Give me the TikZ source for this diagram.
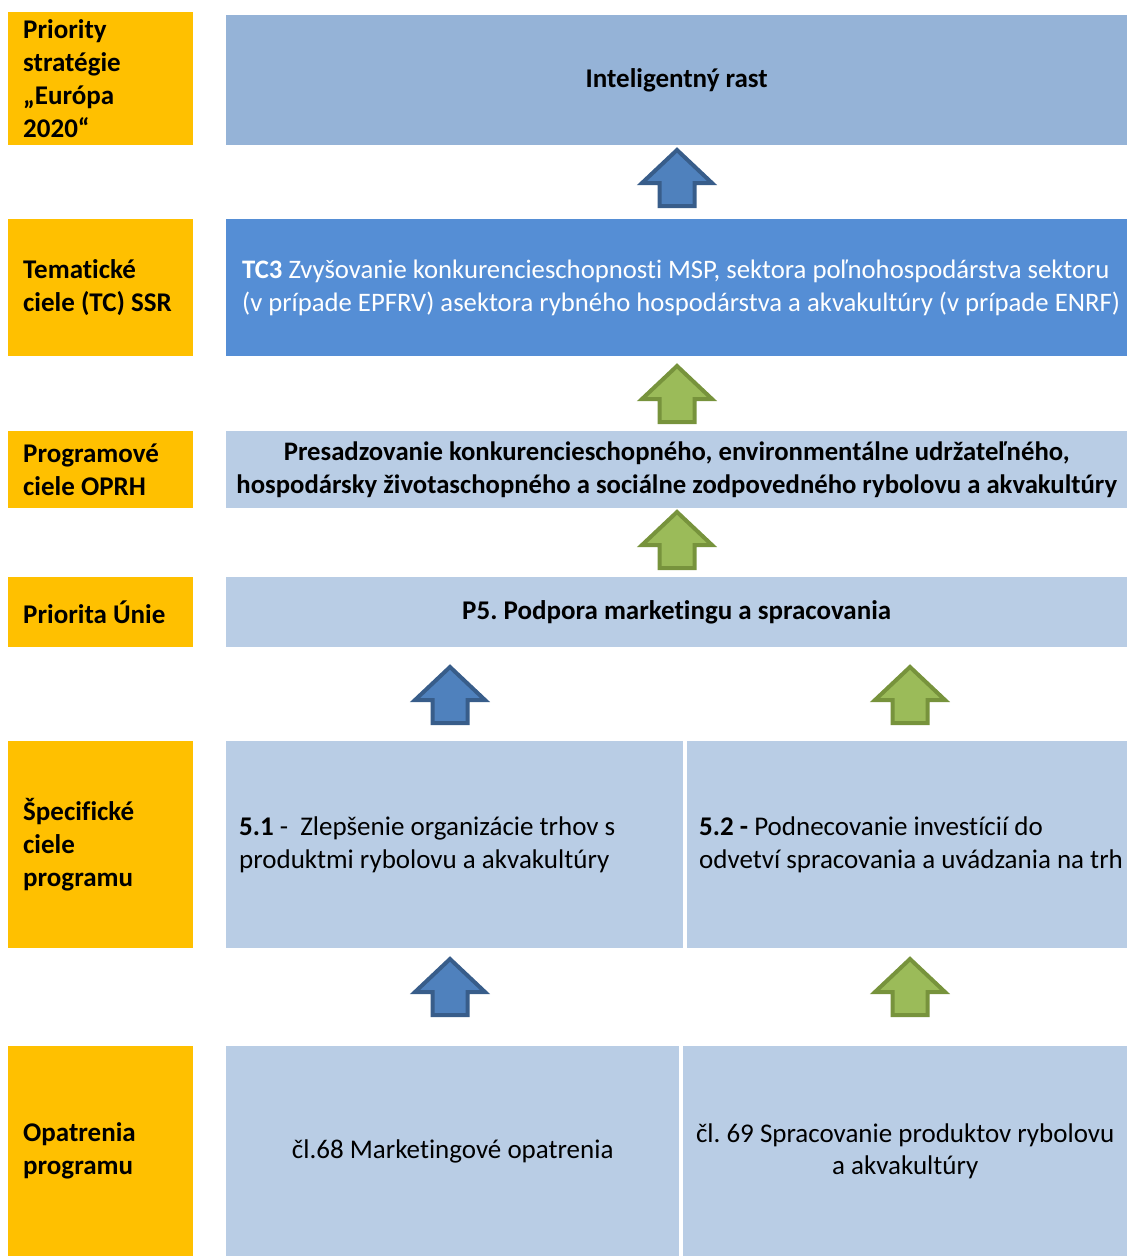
\documentclass[tikz,border=0pt]{standalone}
\usepackage{fontspec}
\setmainfont{Carlito}[Ligatures=NoCommon]
\frenchspacing
\definecolor{yel}{HTML}{FFC000}
\definecolor{topblue}{HTML}{95B3D7}
\definecolor{tcblue}{HTML}{558ED5}
\definecolor{lblue}{HTML}{B9CDE5}
\definecolor{arbfill}{HTML}{4F81BD}
\definecolor{arbdraw}{HTML}{385D8A}
\definecolor{argfill}{HTML}{9BBB59}
\definecolor{argdraw}{HTML}{77933C}
\newcommand\natsp{\frenchspacing\spaceskip=0pt\xspaceskip=0pt\relax}
\newcommand\blockarr[4]{%
  \draw[line width=4pt, line join=miter, fill=#3, draw=#4]
    (#1,#2) -- ++(35,33) -- ++(-17.5,0) -- ++(0,23) -- ++(-35,0) -- ++(0,-23) -- ++(-17.5,0) -- cycle;}
\begin{document}
\begin{tikzpicture}[x=1pt,y=-1pt,
  txt/.style={font=\fontsize{27}{32.8}\selectfont\frenchspacing},
  ybox/.style={fill=yel, anchor=north west, inner xsep=15pt, inner ysep=0pt, text width=155pt, align=left, font=\fontsize{27}{32.8}\selectfont\bfseries},
  rbox/.style={txt, anchor=north west, inner sep=0pt},
  bold/.style={font=\fontsize{27}{32.8}\selectfont\bfseries\frenchspacing}]
\useasboundingbox (0,0) rectangle (1127,1256);
% left column
\node[ybox, minimum height=133pt] (y1) at (8,12) {\natsp\mbox{Priority}\\ \mbox{stratégie}\\ \mbox{„Európa}\\ \mbox{2020“}};
\node[ybox, minimum height=137pt] (y2) at (8,219) {\natsp\mbox{Tematické}\\ \mbox{ciele (TC) SSR}};
\node[ybox, minimum height=77pt] (y3) at (8,431) {\natsp\mbox{Programové}\\ \mbox{ciele OPRH}};
\node[ybox, minimum height=70pt] (y4) at (8,577) {\natsp\mbox{Priorita Únie}};
\node[ybox, minimum height=207pt] (y5) at (8,741) {\natsp\mbox{Špecifické}\\ \mbox{ciele}\\ \mbox{programu}};
\node[ybox, minimum height=210pt] (y6) at (8,1046) {\natsp\mbox{Opatrenia}\\ \mbox{programu}};
% right column
\node[rbox, bold, fill=topblue, minimum width=901pt, minimum height=130pt] (r1) at (226,15) {Inteligentný rast};
\node[rbox, fill=tcblue, text=white, minimum height=137pt, inner xsep=16pt, text width=869pt, align=left, font=\fontsize{26.7}{32.8}\selectfont] (r2) at (226,219) {\natsp\mbox{\textbf{TC3} Zvyšovanie konkurencieschopnosti MSP, sektora poľnohospodárstva sektoru}\\\mbox{(v prípade EPFRV) asektora rybného hospodárstva a akvakultúry (v prípade ENRF)}};
\node[rbox, fill=lblue, minimum width=901pt, minimum height=77pt, align=center, font=\fontsize{26.7}{32.8}\selectfont\bfseries] (r3) at (226,431) {\natsp Presadzovanie konkurencieschopného, environmentálne udržateľného,\\ hospodársky životaschopného a sociálne zodpovedného rybolovu a akvakultúry};
\node[rbox, bold, fill=lblue, minimum width=901pt, minimum height=70pt] (r4) at (226,577) {P5. Podpora marketingu a spracovania};
\node[rbox, fill=lblue, minimum height=207pt, inner xsep=13pt, text width=431pt, align=left] (r5a) at (226,741) {\natsp\mbox{\textbf{5.1} -\ \ Zlepšenie organizácie trhov s}\\ \mbox{produktmi rybolovu a akvakultúry}};
\node[rbox, fill=lblue, minimum height=207pt, inner xsep=12pt, text width=416pt, align=left] (r5b) at (687,741) {\natsp\mbox{\textbf{5.2 -} Podnecovanie investícií do}\\ \mbox{odvetví spracovania a uvádzania na trh}};
\node[rbox, fill=lblue, minimum width=453pt, minimum height=210pt] (r6a) at (226,1046) {čl.68 Marketingové opatrenia};
\node[rbox, fill=lblue, minimum width=444pt, minimum height=210pt, align=center] (r6b) at (683,1046) {\natsp čl. 69 Spracovanie produktov rybolovu\\ a akvakultúry};
% arrows
\blockarr{677}{150}{arbfill}{arbdraw}
\blockarr{677}{366}{argfill}{argdraw}
\blockarr{677}{512}{argfill}{argdraw}
\blockarr{450}{667}{arbfill}{arbdraw}
\blockarr{910}{667}{argfill}{argdraw}
\blockarr{450}{959}{arbfill}{arbdraw}
\blockarr{910}{959}{argfill}{argdraw}
\end{tikzpicture}
\end{document}
